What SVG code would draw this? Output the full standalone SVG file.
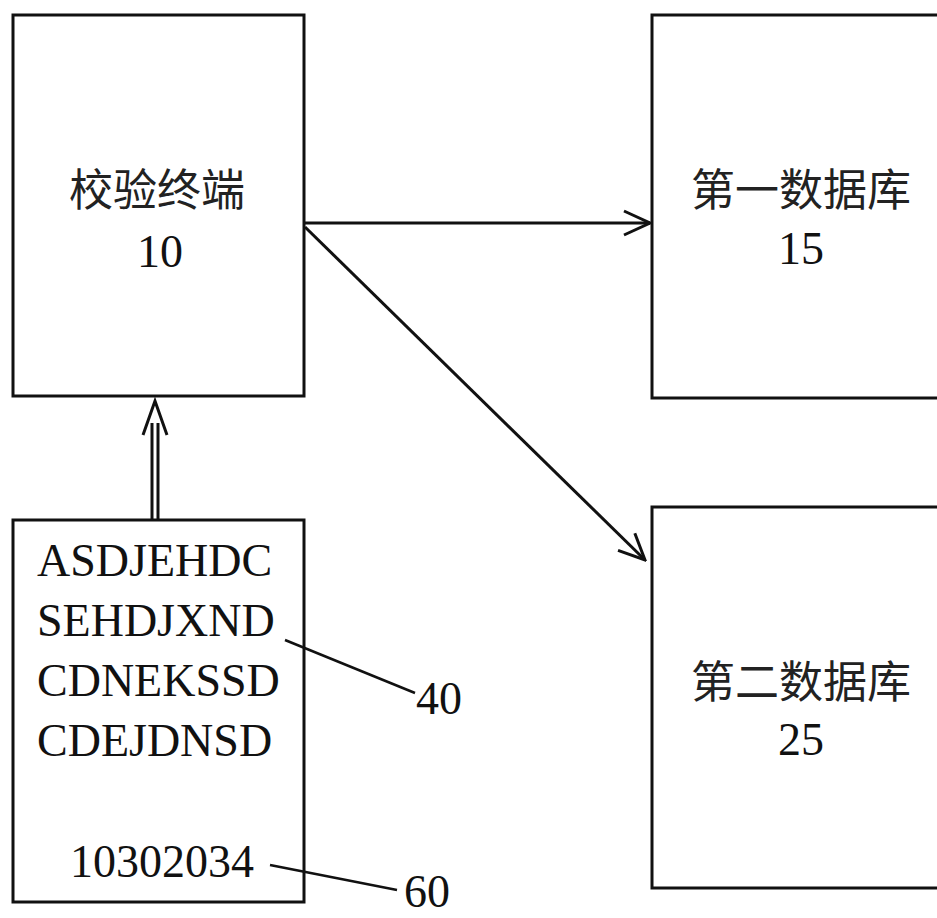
<svg xmlns="http://www.w3.org/2000/svg" width="937" height="918" viewBox="0 0 937 918">
<style>
.box{fill:#fff;stroke:#111;stroke-width:3}
.cjk{font-family:"Noto Sans CJK SC","Noto Sans",sans-serif;font-size:44px;fill:#222;text-anchor:middle}
.num{font-family:"Liberation Serif",serif;font-size:46px;fill:#111;text-anchor:middle}
.code{font-family:"Liberation Serif",serif;font-size:46px;fill:#111}
.ln{fill:none;stroke:#111;stroke-width:3}
.ld{fill:none;stroke:#111;stroke-width:2.5}
</style>
<defs>
<marker id="arr" viewBox="0 0 30 30" refX="28" refY="15" markerWidth="30" markerHeight="30" markerUnits="userSpaceOnUse" orient="auto">
<path d="M2,3 L28,15 L2,27" fill="none" stroke="#111" stroke-width="3"/>
</marker>
</defs>
<rect width="937" height="918" fill="#fff"/>
<g id="node-10">
<rect class="box" x="13" y="15" width="291" height="381"/>
<text class="cjk" x="157" y="206">校验终端</text>
<text class="num" x="160" y="267">10</text>
</g>
<g id="node-15">
<rect class="box" x="652" y="15" width="300" height="383"/>
<text class="cjk" x="801" y="206">第一数据库</text>
<text class="num" x="801" y="264">15</text>
</g>
<g id="node-25">
<rect class="box" x="652" y="507" width="300" height="381"/>
<text class="cjk" x="801" y="698">第二数据库</text>
<text class="num" x="801" y="755">25</text>
</g>
<g id="node-data">
<rect class="box" x="13" y="520" width="291" height="382"/>
<text class="code" x="37" y="576">ASDJEHDC</text>
<text class="code" x="37" y="636">SEHDJXND</text>
<text class="code" x="37" y="696">CDNEKSSD</text>
<text class="code" x="37" y="756">CDEJDNSD</text>
<text class="code" x="70" y="877">10302034</text>
</g>
<g id="labels">
<text class="code" x="416" y="714">40</text>
<text class="code" x="404" y="907">60</text>
</g>
<g id="connectors">
<line class="ln" x1="304" y1="223" x2="650" y2="223" marker-end="url(#arr)"/>
<line class="ln" x1="305" y1="227" x2="645" y2="560" marker-end="url(#arr)"/>
<line class="ln" x1="152" y1="520" x2="152" y2="423"/>
<line class="ln" x1="158" y1="520" x2="158" y2="423"/>
<path class="ln" d="M143,435 L155,401 L167,435"/>
<line class="ld" x1="285" y1="640" x2="415" y2="693"/>
<line class="ld" x1="270" y1="865" x2="397" y2="890"/>
</g>
</svg>
